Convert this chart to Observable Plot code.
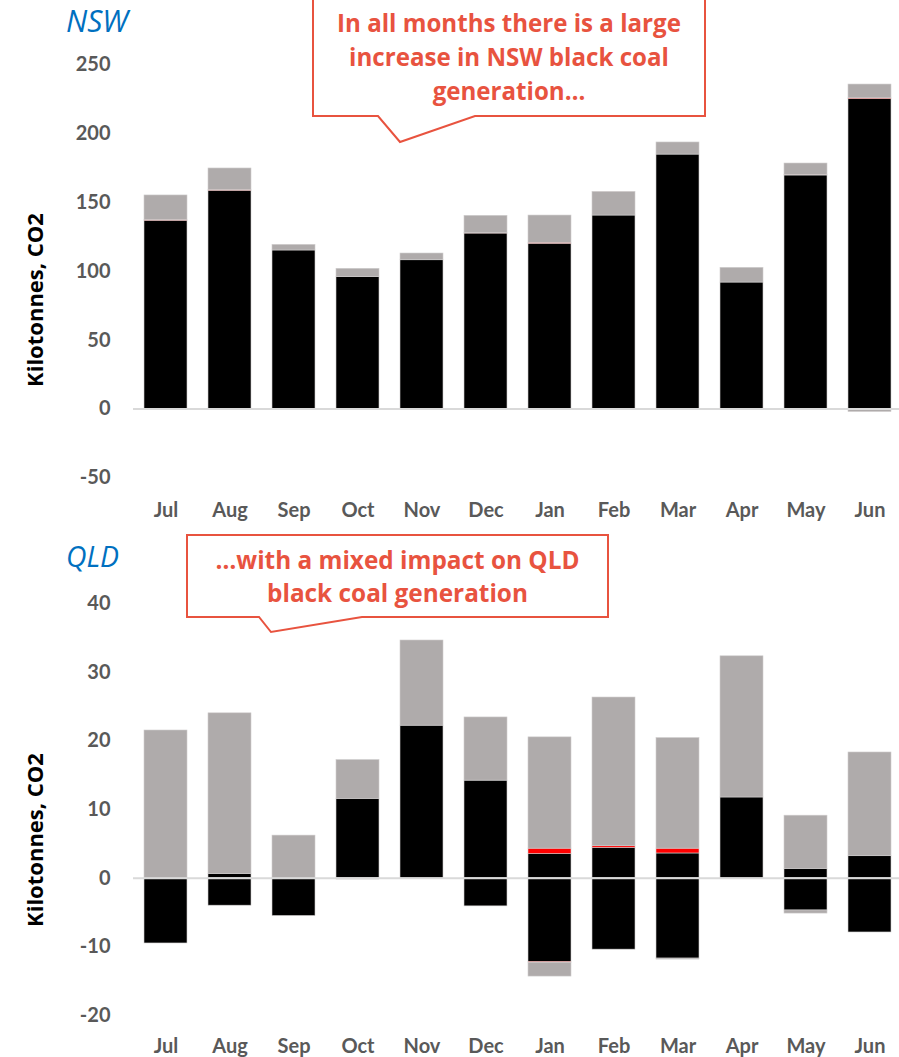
<!DOCTYPE html>
<html><head><meta charset="utf-8">
<script src="https://cdn.jsdelivr.net/npm/d3@7"></script>
<script src="https://cdn.jsdelivr.net/npm/@observablehq/plot@0.6"></script>
<style>
body{margin:0;background:#fff;}
#wrap{position:relative;width:899px;height:1057px;overflow:hidden;font-family:Lato,"Open Sans",sans-serif;}
#wrap svg.plot{display:block;}
#overlay{position:absolute;left:0;top:0;pointer-events:none;}
</style></head><body><div id="wrap"></div>
<script>
// ---------- data ----------
const months = ["Jul","Aug","Sep","Oct","Nov","Dec","Jan","Feb","Mar","Apr","May","Jun"];

// NSW (kilotonnes CO2)
const nswBlackUp   = [136.8, 158.6, 115.2, 95.8, 108.1, 127.5, 120.1, 140.6, 184.9, 91.9, 169.7, 225.2];
const nswBlackDown = [0, 0, 0, 0, 0, 0, 0, 0, 0, 0, 0, 0];
const nswRedUp     = [0.5, 0.5, 0, 0, 0, 0.3, 0.7, 0, 0, 0, 0.5, 0.6];
const nswRedDown   = [0, 0, 0, 0, 0, 0, 0, 0, 0, 0, 0, 0];
const nswGrayUp    = [17.9, 15.7, 4.1, 6.1, 4.9, 12.6, 19.8, 17.2, 8.8, 10.7, 8.2, 10.0];
const nswGrayDown  = [0, 0, 0, 0, 0, 0, 0, 0, 0, 0, -0.8, -2.2];

// QLD (kilotonnes CO2)
const qldBlackUp   = [0, 0.6, 0, 11.55, 22.2, 14.2, 3.5, 4.4, 3.6, 11.75, 1.35, 3.2];
const qldBlackDown = [-9.5, -4.0, -5.5, 0, 0, -4.1, -12.2, -10.4, -11.7, 0, -4.7, -7.9];
const qldRedUp     = [0, 0, 0, 0, 0, 0, 0.8, 0.25, 0.7, 0, 0, 0];
const qldRedDown   = [0, 0, 0, 0, 0, 0, -0.12, 0, 0, 0, 0, 0];
const qldGrayUp    = [21.5, 23.4, 6.2, 5.65, 12.4, 9.2, 16.2, 21.65, 16.1, 20.55, 7.75, 15.1];
const qldGrayDown  = [0, 0, 0, -0.2, 0, 0, -2.0, 0, -0.15, 0, -0.45, 0];

const nswTicks = [-50, 0, 50, 100, 150, 200, 250];
const qldTicks = [-20, -10, 0, 10, 20, 30, 40];

const seriesNames  = ["blackUp","blackDown","redUp","redDown","grayUp","grayDown"];
const seriesColors = ["#000000","#000000","#ff0000","#ff0000","#afabab","#afabab"];

const yLabel = "Kilotonnes, CO2";
const nswTitle = "NSW", qldTitle = "QLD";
const nswNote = ["In all months there is a large", "increase in NSW black coal", "generation…"];
const qldNote = ["…with a mixed impact on QLD", "black coal generation"];

// ---------- build ----------
function rows(lists) {
  const out = [];
  lists.forEach((vals, s) => vals.forEach((v, i) => {
    if (v !== 0) out.push({month: months[i], value: v, series: seriesNames[s], color: seriesColors[s]});
  }));
  return out;
}

const FONT = "Lato, 'Open Sans', sans-serif";
const FONT2 = "'Open Sans', Lato, sans-serif";
const TICK = "#595959";

function chart(data, ticks, domain, height, mTop, mBottom, xPad) {
  return Plot.plot({
    width: 899, height, marginTop: mTop, marginBottom: mBottom, marginLeft: 133, marginRight: 0,
    style: {fontFamily: FONT, background: "white", overflow: "visible"},
    x: {type: "band", domain: months, range: [133, 902], paddingInner: 0.334, paddingOuter: 0.167, label: null},
    y: {domain, label: null},
    marks: [
      Plot.barY(data, Plot.stackY({x: "month", y: "value", z: "series", fill: "color",
        order: seriesNames, stroke: "#d0cece", strokeWidth: 0.6})),
      Plot.ruleY([0], {stroke: "#d9d9d9", strokeWidth: 2}),
      Plot.axisY({ticks, tickFormat: d => String(d), tickSize: 0, tickPadding: 23, label: null,
        fontSize: 20, fontWeight: "bold", fill: TICK}),
      Plot.axisX({tickSize: 0, tickPadding: xPad, label: null, fontSize: 20, fontWeight: "bold", fill: TICK})
    ]
  });
}

const wrap = document.getElementById("wrap");
const nsw = chart(rows([nswBlackUp, nswBlackDown, nswRedUp, nswRedDown, nswGrayUp, nswGrayDown]),
  nswTicks, [-50, 250], 530, 64.5, 52.7, 25);
nsw.classList.add("plot");
wrap.appendChild(nsw);
const qld = chart(rows([qldBlackUp, qldBlackDown, qldRedUp, qldRedDown, qldGrayUp, qldGrayDown]),
  qldTicks, [-20, 40], 527, 72.9, 41.9, 23);
qld.classList.add("plot");
wrap.appendChild(qld);

// ---------- annotations overlay ----------
const NOTE = "#e8533f";
const ov = d3.select(wrap).append("svg").attr("id", "overlay").attr("width", 899).attr("height", 1057);

// scale a text's font size so its rendered width matches the reference width
function fit(sel, target) {
  const w = sel.node().getComputedTextLength();
  const fs = +sel.attr("font-size");
  if (w > 0) sel.attr("font-size", (fs * target / w).toFixed(2));
  return +sel.attr("font-size");
}

function title(txt, y, w) {
  const t = ov.append("text").attr("x", 66).attr("y", y).text(txt).style("font-family", FONT2)
    .attr("font-size", 27).attr("font-style", "italic").attr("fill", "#0070c0");
  fit(t, w);
}
title(nswTitle, 32, 62);
title(qldTitle, 567, 53);

function ylab(cy) {
  const t = ov.append("text").attr("transform", `translate(43,${cy}) rotate(-90)`).attr("text-anchor", "middle")
    .style("font-family", FONT2).attr("font-size", 20).attr("font-weight", "bold").attr("fill", "#000").text(yLabel);
  fit(t, 174);
}
ylab(300);
ylab(840);

function callout(path, lines, cx, y0, step, w) {
  ov.append("path").attr("d", path).attr("fill", "white").attr("stroke", NOTE).attr("stroke-width", 2);
  const ts = lines.map((l, i) => ov.append("text").attr("x", cx).attr("y", y0 + i * step).attr("text-anchor", "middle")
    .style("font-family", FONT2).attr("font-size", 21).attr("font-weight", "bold").attr("fill", NOTE).text(l));
  const fs = fit(ts[0], w);
  ts.forEach(t => t.attr("font-size", fs));
}
callout("M313,-2H705V116H475L400,142L378,116H313Z", nswNote, 509, 31.7, 34, 344);
callout("M187,535H608V617H362L271,632L259,617H187Z", qldNote, 397.5, 569, 33, 364);
</script></body></html>
